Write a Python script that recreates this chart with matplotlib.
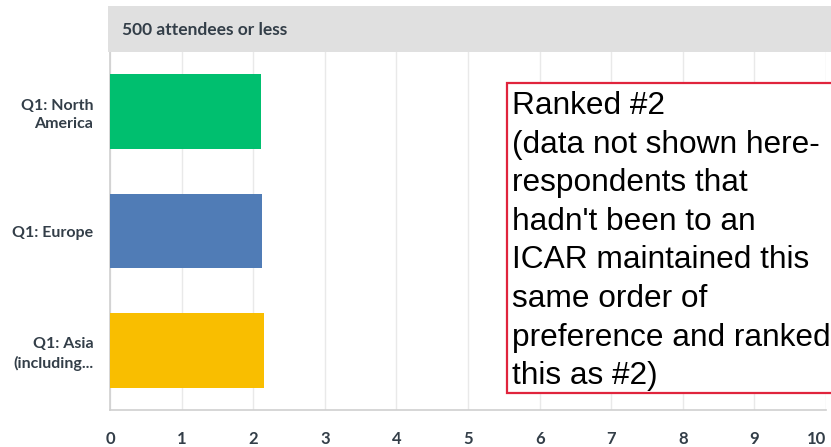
import matplotlib
matplotlib.use("Agg")
import matplotlib.pyplot as plt
from matplotlib.patches import Rectangle

# Survey answers (average rank)
categories = ["Q1: North\nAmerica", "Q1: Europe", "Q1: Asia\n(including..."]
values = [2.11, 2.12, 2.15]
colors = ["#00bf6f", "#507cb6", "#f9be00"]
xticks = list(range(0, 11))

header = "500 attendees or less"
note = ("Ranked #2\n(data not shown here-\nrespondents that\nhadn't been to an\n"
        "ICAR maintained this\nsame order of\npreference and ranked\nthis as #2)")

W, H = 831, 447
text_color = "#333e48"
plt.rcParams['font.family'] = ['Lato', 'DejaVu Sans']

fig = plt.figure(figsize=(W / 100, H / 100), dpi=100)
ax = fig.add_axes([110 / W, 1 - 410 / H, (826 - 110) / W, (410 - 52) / H])

ax.barh(range(len(categories)), values, height=0.625, color=colors, zorder=3)
ax.set_ylim(2.5, -0.5)
ax.set_xlim(0, 10)
ax.set_xticks(xticks)
ax.set_yticks(range(len(categories)))
ax.set_yticklabels(categories, ha="right", linespacing=1.35)
ax.tick_params(axis="x", length=0, pad=15, labelsize=12, labelcolor=text_color)
ax.tick_params(axis="y", length=0, pad=12, labelsize=11.5, labelcolor=text_color)
for lbl in ax.get_xticklabels() + ax.get_yticklabels():
    lbl.set_fontweight("bold")
ax.get_xticklabels()[-1].set_ha("right")

ax.grid(axis="x", color="#e9e9e9", linewidth=1, zorder=0)
ax.grid(axis="y", visible=False)
for side in ["top", "right"]:
    ax.spines[side].set_visible(False)
for side in ["left", "bottom"]:
    ax.spines[side].set_color("#cfcfcf")
    ax.spines[side].set_linewidth(1.2)

# grey header band
fig.patches.append(Rectangle((108 / W, 1 - 52 / H), 1, 46 / H, transform=fig.transFigure,
                             facecolor="#e0e0e0", edgecolor="none", zorder=0))
fig.text(122 / W, 1 - 30 / H, header, ha="left", va="center", fontsize=12.5,
         fontweight="bold", color=text_color)

# red annotation box (runs off the right edge)
fig.patches.append(Rectangle((507 / W, 1 - 393 / H), 340 / W, 310 / H, transform=fig.transFigure,
                             facecolor="white", edgecolor="#e0243c", linewidth=1.6, zorder=5))
fig.text(512 / W, 1 - 91 / H, note, ha="left", va="top", fontsize=22.8, linespacing=1.375,
         family="Liberation Sans", color="black", zorder=6)

fig.savefig("out.png", dpi=100)
